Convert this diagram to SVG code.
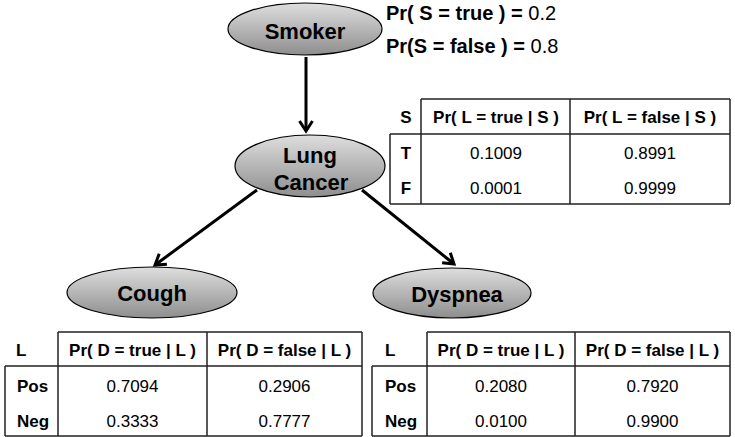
<svg xmlns="http://www.w3.org/2000/svg" width="735" height="437" viewBox="0 0 735 437">
<defs>
<linearGradient id="g" x1="0" y1="0" x2="0" y2="1">
<stop offset="0" stop-color="#dedede"/>
<stop offset="1" stop-color="#8e8e8e"/>
</linearGradient>
<marker id="ah" markerUnits="userSpaceOnUse" markerWidth="20" markerHeight="20" viewBox="-12 -10 14 20" refX="0" refY="0" orient="auto">
<path d="M-10,-6.5 L0,0 L-10,6.5" fill="none" stroke="#000" stroke-width="3"/>
</marker>
<style>
.node ellipse{fill:url(#g);stroke:#000;stroke-width:1.2}
.nl{font-family:"Liberation Sans",Arial,sans-serif;font-weight:bold;font-size:22px;fill:#000;text-anchor:middle}
.edge{stroke:#000;stroke-width:3;fill:none;marker-end:url(#ah)}
.tl{stroke:#222;stroke-width:1.5;fill:none}
.th{font-family:"Liberation Sans",Arial,sans-serif;font-weight:bold;font-size:17px;fill:#000;text-anchor:middle}
.td{font-family:"Liberation Sans",Arial,sans-serif;font-size:17px;fill:#000;text-anchor:middle}
.rl{font-family:"Liberation Sans",Arial,sans-serif;font-weight:bold;font-size:17px;fill:#000}
.pr{font-family:"Liberation Sans",Arial,sans-serif;font-weight:bold;font-size:20px;fill:#000}
</style>
</defs>
<rect width="735" height="437" fill="#fff"/>

<g id="connectors">
<line class="edge" x1="306" y1="57" x2="306" y2="131"/>
<line class="edge" x1="257" y1="190" x2="155" y2="265"/>
<line class="edge" x1="362" y1="190" x2="454" y2="264"/>
</g>

<g id="smoker" class="node">
<ellipse cx="305" cy="29" rx="77" ry="26"/>
<text class="nl" x="305" y="39">Smoker</text>
</g>
<g id="lung-cancer" class="node">
<ellipse cx="310" cy="166" rx="75" ry="31"/>
<text class="nl" x="310" y="163">Lung</text>
<text class="nl" x="311" y="190">Cancer</text>
</g>
<g id="cough" class="node">
<ellipse cx="152" cy="292.5" rx="85" ry="25.5"/>
<text class="nl" x="152" y="301">Cough</text>
</g>
<g id="dyspnea" class="node">
<ellipse cx="452" cy="293" rx="79" ry="25"/>
<text class="nl" x="457" y="302">Dyspnea</text>
</g>

<g id="prior">
<text class="pr" x="386" y="20">Pr( S = true ) = <tspan font-weight="normal">0.2</tspan></text>
<text class="pr" x="386" y="53">Pr(S = false ) = <tspan font-weight="normal">0.8</tspan></text>
</g>

<g id="cpt-lung">
<path class="tl" d="M421,99H730 M390,134H730 M390,204H730 M390,134V204 M421,99V204 M570,99V204 M730,99V204"/>
<text class="th" x="406" y="123">S</text>
<text class="th" x="496" y="123">Pr( L = true | S )</text>
<text class="th" x="650" y="123">Pr( L = false | S )</text>
<text class="th" x="406" y="159">T</text>
<text class="td" x="496" y="159">0.1009</text>
<text class="td" x="650" y="159">0.8991</text>
<text class="th" x="406" y="194">F</text>
<text class="td" x="496" y="194">0.0001</text>
<text class="td" x="650" y="194">0.9999</text>
</g>

<g id="cpt-cough">
<path class="tl" d="M58,332H362 M5,366H362 M5,436H362 M5,366V436 M58,332V436 M207,332V436 M362,332V436"/>
<text class="rl" x="16" y="356">L</text>
<text class="th" x="132.5" y="356">Pr( D = true | L )</text>
<text class="th" x="284.5" y="356">Pr( D = false | L )</text>
<text class="rl" x="17" y="392">Pos</text>
<text class="td" x="132.5" y="392">0.7094</text>
<text class="td" x="284.5" y="392">0.2906</text>
<text class="rl" x="17" y="427">Neg</text>
<text class="td" x="132.5" y="427">0.3333</text>
<text class="td" x="284.5" y="427">0.7777</text>
</g>

<g id="cpt-dyspnea">
<path class="tl" d="M427,332H730 M372,366H730 M372,436H730 M372,366V436 M427,332V436 M575,332V436 M730,332V436"/>
<text class="rl" x="385" y="356">L</text>
<text class="th" x="501" y="356">Pr( D = true | L )</text>
<text class="th" x="652.5" y="356">Pr( D = false | L )</text>
<text class="rl" x="385" y="392">Pos</text>
<text class="td" x="501" y="392">0.2080</text>
<text class="td" x="652.5" y="392">0.7920</text>
<text class="rl" x="385" y="427">Neg</text>
<text class="td" x="501" y="427">0.0100</text>
<text class="td" x="652.5" y="427">0.9900</text>
</g>
</svg>
